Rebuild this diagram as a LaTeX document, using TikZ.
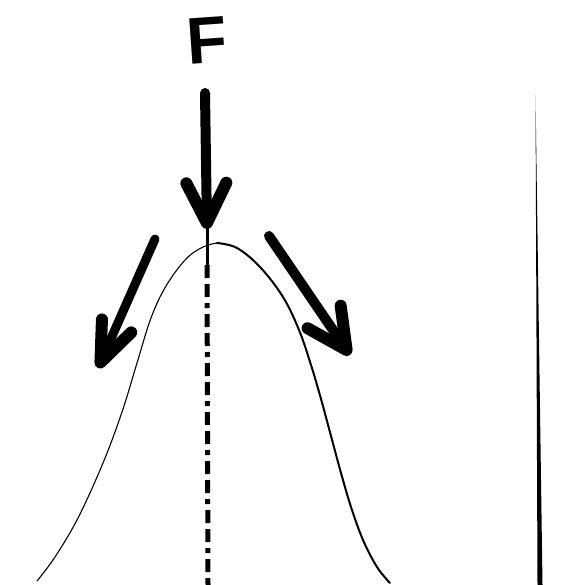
\documentclass[tikz,border=0pt]{standalone}
\usepackage{fontspec}
\newfontfamily\ffont{Liberation Sans}
\usetikzlibrary{arrows.meta}
\tikzset{
  force/.style={line width=10pt, line cap=round, -{Straight Barb[length=40pt,width=40pt,round,line width=12pt]}},
  axisdash/.style={line width=5pt, dash pattern=on 13pt off 6pt on 13pt off 6pt on 5pt off 6pt},
  curve/.style={line join=round, line cap=round},
}
\begin{document}
\begin{tikzpicture}[x=1pt,y=-1pt]
\useasboundingbox (0,0) rectangle (583,585);
% label
\node[font=\ffont\bfseries\fontsize{66}{66}\selectfont, inner sep=0pt, rotate=4] (F) at (207,40) {F};
% vertical force arrow
\coordinate (ftop) at (205,93);
\coordinate (ftip) at (207,229);
\draw[force] (ftop) -- (ftip);
% axis
\coordinate (stemtop) at (207,225);
\coordinate (stembot) at (207,265);
\coordinate (axbot) at (208,585);
\draw[line width=3pt] (stemtop) -- (stembot);
\draw[axisdash] (stembot) -- (axbot);
% bell curve
\draw[curve, line width=1.1pt] plot[smooth, tension=0.6] coordinates {(37,581) (55,557) (78,518) (103,463) (122,412) (137,363) (151,318) (166,286) (186,259) (203,247) (217,243)};
\draw[curve, line width=2pt] plot[smooth, tension=0.6] coordinates {(217,243) (237,248) (260,267) (283,297) (299,330) (311,365) (321,399) (331,436) (341,473) (351,507) (363,540) (377,567) (390,583)};
% side arrows
\coordinate (la) at (155,239);
\coordinate (lb) at (98,368);
\draw[force, line width=9pt, -{Straight Barb[length=40pt,width=32pt,round,line width=12pt]}] (la) -- (lb);
\coordinate (ra) at (269,236);
\coordinate (rb) at (350,355);
\draw[force] (ra) -- (rb);
% thin wedge line at right
\coordinate (wt) at (535.5,95);
\coordinate (wl) at (537.5,585);
\coordinate (wr) at (542.5,585);
\fill[black] (wt) -- (wl) -- (wr) -- cycle;
\end{tikzpicture}
\end{document}
